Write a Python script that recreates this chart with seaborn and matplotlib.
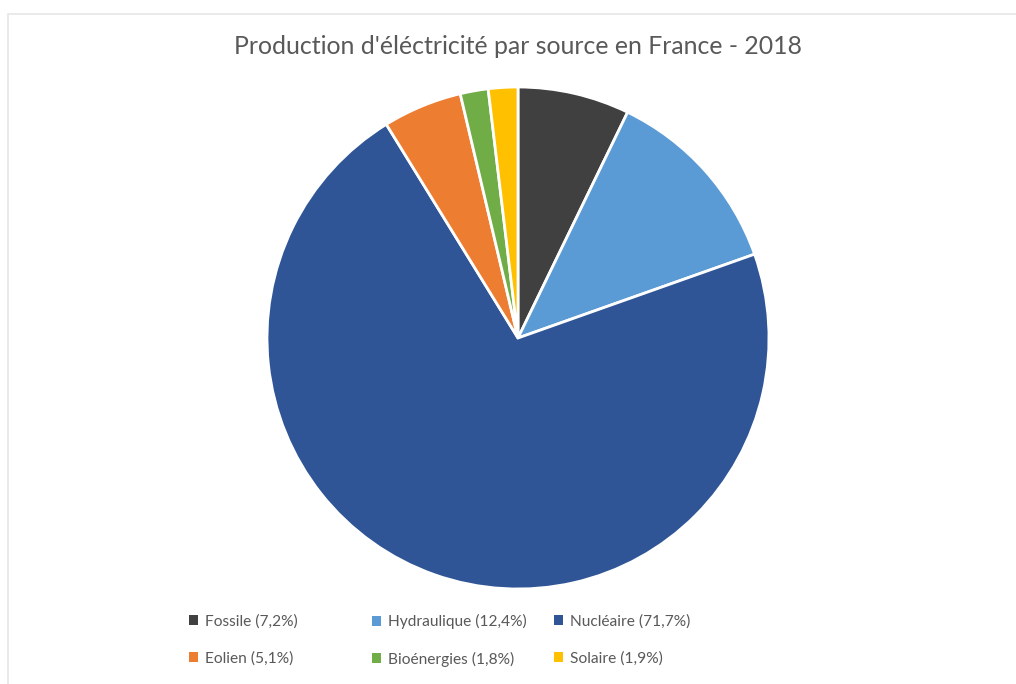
import matplotlib
matplotlib.use('Agg')
import matplotlib.pyplot as plt
from matplotlib.patches import Patch, Rectangle
import seaborn as sns

sns.set_theme(style='white')
plt.rcParams['font.family'] = ['Lato', 'DejaVu Sans']

title = "Production d'éléctricité par source en France - 2018"
sources = ['Fossile', 'Hydraulique', 'Nucléaire', 'Eolien', 'Bioénergies', 'Solaire']
shares = [7.2, 12.4, 71.7, 5.1, 1.8, 1.9]
colors = ['#404040', '#5B9BD5', '#2F5597', '#ED7D31', '#70AD47', '#FFC000']

W, H = 1016, 684
fig = plt.figure(figsize=(W / 100, H / 100), dpi=100)

# faint frame, like the original chart border
fig.patches.append(Rectangle((8 / W, -0.01), 1.1, 1 - 14 / H + 0.01, transform=fig.transFigure,
                             fill=False, edgecolor='#e6e6e6', lw=1.2))

cx, cy, r = 518, 338, 251
ax = fig.add_axes([(cx - r) / W, (H - cy - r) / H, 2 * r / W, 2 * r / H])
ax.pie(shares, colors=colors, startangle=90, counterclock=False,
       wedgeprops=dict(edgecolor='white', linewidth=2))
ax.set_xlim(-1, 1)
ax.set_ylim(-1, 1)
ax.set_aspect('equal')
ax.axis('off')

fig.text(518 / W, 1 - 47 / H, title, ha='center', va='center', fontsize=17.9, color='#595959')

labels = [f"{s} ({str(v).replace('.', ',')}%)" for s, v in zip(sources, shares)]
handles = [Patch(facecolor=c, edgecolor='none') for c in colors]

# three legend columns, each holding two rows (row-major order of the original)
col_x = [189, 372, 554]
for i, x in enumerate(col_x):
    leg = fig.legend([handles[i], handles[i + 3]], [labels[i], labels[i + 3]],
                     loc='upper left', bbox_to_anchor=(x / W, 1 - 614 / H),
                     frameon=False, fontsize=11.2, handlelength=0.6, handleheight=0.6,
                     handletextpad=0.45, labelspacing=1.45, borderaxespad=0, borderpad=0,
                     labelcolor='#595959')

fig.savefig('out.png', dpi=100, facecolor='white')
